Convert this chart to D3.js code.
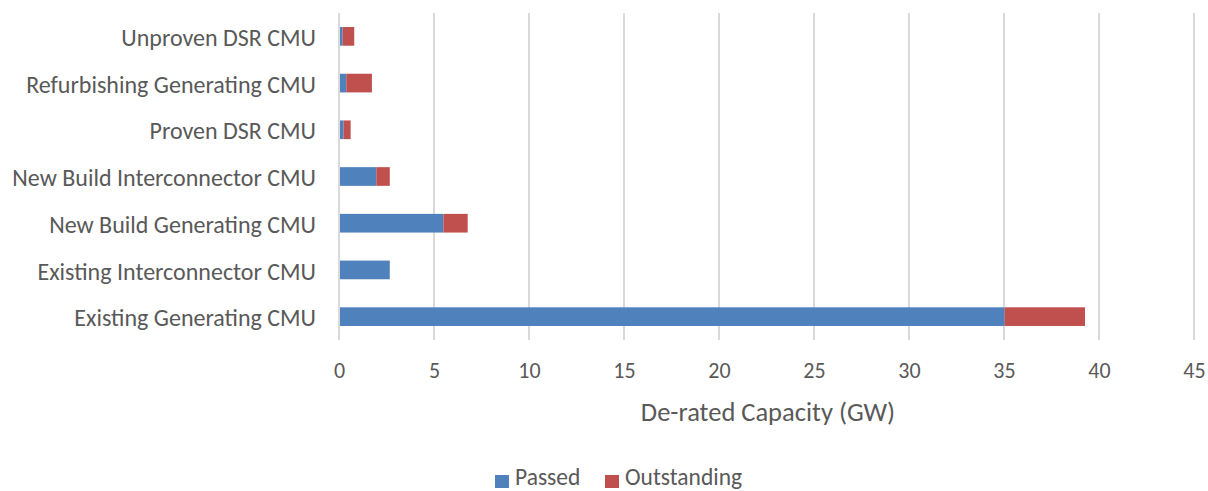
<!DOCTYPE html>
<html>
<head>
<meta charset="utf-8">
<script src="https://cdn.jsdelivr.net/npm/d3@7"></script>
<style>
  html, body { margin: 0; padding: 0; background: #fff; }
  svg { display: block; }
  text { font-family: Calibri, Carlito, Lato, "Open Sans", sans-serif; fill: #595959; }
</style>
</head>
<body>
<svg id="chart" width="1208" height="491"></svg>
<script>
// CMU categories, listed bottom to top as drawn
const categories = [
  "Existing Generating CMU",
  "Existing Interconnector CMU",
  "New Build Generating CMU",
  "New Build Interconnector CMU",
  "Proven DSR CMU",
  "Refurbishing Generating CMU",
  "Unproven DSR CMU"
];
const passed      = [34.98, 2.62, 5.44, 1.91, 0.19, 0.33, 0.14];
const outstanding = [4.23, 0.00, 1.28, 0.71, 0.37, 1.35, 0.61];
const seriesNames = ["Passed", "Outstanding"];
const seriesColors = ["#4F81BD", "#C0504D"];
const xTicks = [0, 5, 10, 15, 20, 25, 30, 35, 40, 45];
const xTitle = "De-rated Capacity (GW)";

const FONT = "Calibri, Carlito, Lato, 'Open Sans', sans-serif";
const svg = d3.select("#chart");
const plot = { left: 339, right: 1194, top: 13, bottom: 340 };

const x = d3.scaleLinear().domain([0, 45]).range([plot.left, plot.right]);
const y = d3.scaleBand()
  .domain(categories.slice().reverse())
  .range([plot.top, plot.bottom])
  .paddingInner(0.6)
  .paddingOuter(0.3);

// vertical gridlines
svg.append("g")
  .selectAll("line")
  .data(xTicks)
  .join("line")
  .attr("x1", d => x(d)).attr("x2", d => x(d))
  .attr("y1", plot.top).attr("y2", plot.bottom)
  .attr("stroke", "#D9D9D9")
  .attr("stroke-width", 2);

// stacked bars
const rows = categories.map((c, i) => ({ category: c, Passed: passed[i], Outstanding: outstanding[i] }));
const stacked = d3.stack().keys(seriesNames)(rows);

svg.append("g")
  .selectAll("g")
  .data(stacked)
  .join("g")
  .attr("fill", (d, i) => seriesColors[i])
  .selectAll("rect")
  .data(d => d)
  .join("rect")
  .attr("x", d => x(d[0]) + 1)
  .attr("y", d => y(d.data.category))
  .attr("width", d => Math.max(0, x(d[1]) - x(d[0])))
  .attr("height", y.bandwidth());

// x axis tick labels
const xAxis = svg.append("g")
  .attr("transform", `translate(0,${plot.bottom})`)
  .call(d3.axisBottom(x).tickValues(xTicks).tickSize(0));
xAxis.select(".domain").remove();
xAxis.selectAll("text")
  .attr("y", 38)
  .attr("dy", 0)
  .style("font-size", "22px")
  .style("font-family", FONT)
  .attr("fill", "#595959");

// category labels
const yAxis = svg.append("g")
  .attr("transform", `translate(${plot.left},0)`)
  .call(d3.axisLeft(y).tickSize(0).tickPadding(23));
yAxis.select(".domain").remove();
yAxis.selectAll("text")
  .attr("dy", "0.4em")
  .style("font-size", "24px")
  .style("font-family", FONT)
  .attr("fill", "#595959");

// axis title
svg.append("text")
  .attr("x", 768)
  .attr("y", 421)
  .attr("text-anchor", "middle")
  .style("font-size", "26.5px")
  .text(xTitle);

// legend
const legend = svg.append("g").attr("transform", "translate(495,485)");
const legendOffsets = [0, 110];
seriesNames.forEach((name, i) => {
  const g = legend.append("g").attr("transform", `translate(${legendOffsets[i]},0)`);
  g.append("rect").attr("x", 0).attr("y", -10).attr("width", 14).attr("height", 13).attr("fill", seriesColors[i]);
  g.append("text").attr("x", 20).attr("y", 0).style("font-size", "23.5px").text(name);
});
</script>
</body>
</html>
